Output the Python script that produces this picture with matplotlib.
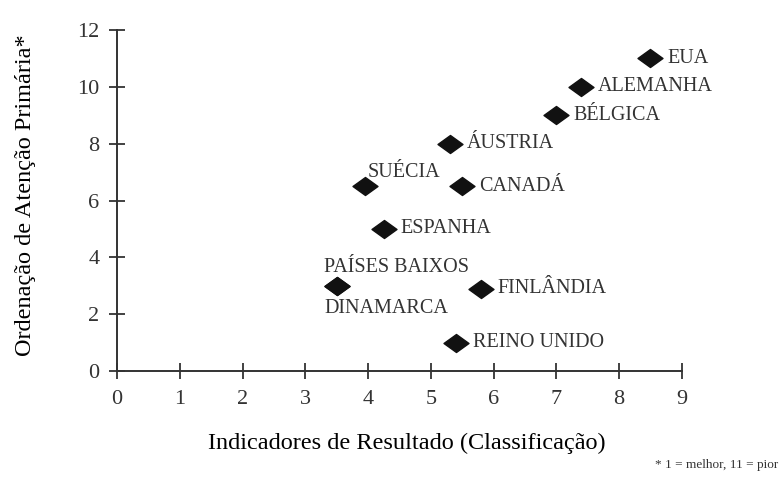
import matplotlib

matplotlib.use("Agg")
import matplotlib.pyplot as plt
from matplotlib.path import Path

countries = ["EUA", "ALEMANHA", "BÉLGICA", "ÁUSTRIA", "SUÉCIA", "CANADÁ",
             "ESPANHA", "PAÍSES BAIXOS", "DINAMARCA", "FINLÂNDIA", "REINO UNIDO"]
resultado = [8.5, 7.4, 7.0, 5.3, 3.95, 5.5, 4.25, 3.5, 3.5, 5.8, 5.4]
atencao = [11, 10, 9, 8, 6.5, 6.5, 5, 3, 3, 2.9, 1]

x_ticks = list(range(0, 10))
y_ticks = list(range(0, 13, 2))

# label offsets in points (dx, dy)
offsets = {
    "SUÉCIA": (2, 10),
    "PAÍSES BAIXOS": (-9, 13),
    "DINAMARCA": (-9, -16),
}

plt.rcParams.update({"font.family": ["Liberation Serif", "DejaVu Serif"],
                     "text.color": "#333", "axes.edgecolor": "#333",
                     "xtick.color": "#333", "ytick.color": "#333"})

fig = plt.figure(figsize=(7.81, 4.82), dpi=100)
ax = fig.add_axes([0.150, 0.230, 0.723, 0.708])

diamond = Path([(-1, 0), (0, 0.72), (1, 0), (0, -0.72), (-1, 0)],
               [Path.MOVETO, Path.LINETO, Path.LINETO, Path.LINETO, Path.CLOSEPOLY])
ax.plot(resultado, atencao, ls="none", marker=diamond, ms=18, color="#111",
        clip_on=False, zorder=3)

for name, xv, yv in zip(countries, resultado, atencao):
    dx, dy = offsets.get(name, (12, 0))
    ax.annotate(name, (xv, yv), textcoords="offset points", xytext=(dx, dy),
                ha="left", va="center", fontsize=14.5, color="#333")

ax.set_xlim(0, 9)
ax.set_ylim(0, 12)
ax.set_xticks(x_ticks)
ax.set_yticks(y_ticks)
for s in ("top", "right"):
    ax.spines[s].set_visible(False)
for s in ("left", "bottom"):
    ax.spines[s].set_linewidth(1.4)
ax.tick_params(direction="inout", length=11.5, width=1.3, labelsize=16)
ax.tick_params(axis="x", pad=8)
ax.tick_params(axis="y", pad=7)

ax.set_xlabel("Indicadores de Resultado (Classificação)", fontsize=17.5)
ax.set_ylabel("Ordenação de Atenção Primária*", fontsize=17.5)
ax.xaxis.set_label_coords(0.513, -0.211)
ax.yaxis.set_label_coords(-0.163, 0.516)
ax.xaxis.label.set_va("center")
ax.yaxis.label.set_va("center")

fig.text(0.996, 0.022, "* 1 = melhor, 11 = pior", ha="right", va="bottom", fontsize=9.5)

fig.savefig("out.png", dpi=100)
